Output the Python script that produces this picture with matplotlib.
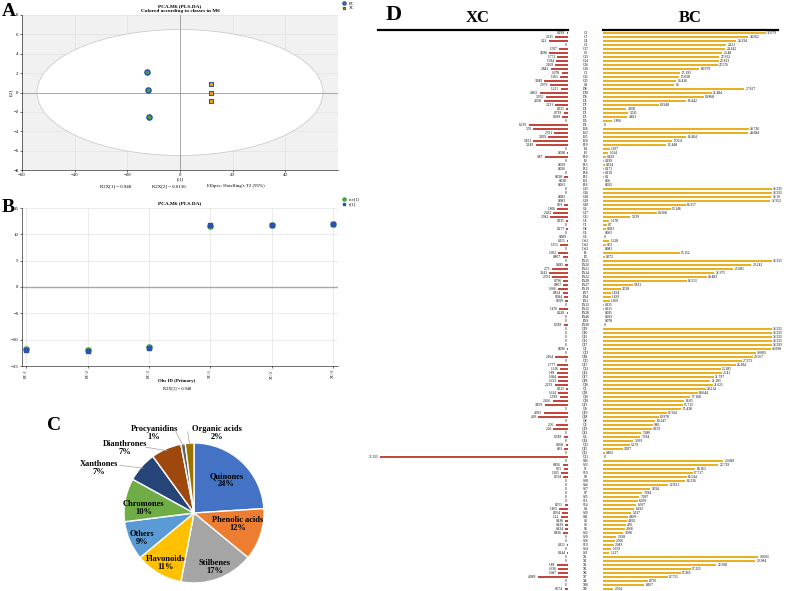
import numpy as np
import matplotlib
matplotlib.use("Agg")
import matplotlib.pyplot as plt
import matplotlib.transforms as mtransforms
from matplotlib.patches import Ellipse
from matplotlib.lines import Line2D

plt.rcParams["font.family"] = ["Liberation Serif", "DejaVu Serif"]

# ---- panel A: PCA scores ----
a_bc_t1 = [-12.4, -12.0, -11.7]
a_bc_t2 = [2.1, 0.28, -2.55]
a_xc_t1 = [11.6, 11.7, 11.9]
a_xc_t2 = [0.9, 0.0, -0.86]

# ---- panel B: t[1] per observation ----
b_obs = ["BC-1", "BC-2", "BC-3", "XC-1", "XC-2", "XC-3"]
b_t1 = [-11.9, -12.1, -11.6, 11.7, 11.8, 11.9]
b_tcv1 = [-11.8, -12.0, -11.4, 11.6, 11.8, 12.0]

# ---- panel C: compound classes ----
pie_names = ["Quinones", "Phenolic acids", "Stilbenes", "Flavonoids", "Others",
             "Chromones", "Xanthones", "Dianthrones", "Procyanidins", "Organic acids"]
pie_pct = [24, 12, 17, 11, 9, 10, 7, 7, 1, 2]
pie_colors = ["#4472C4", "#ED7D31", "#A5A5A5", "#FFC000", "#5B9BD5",
              "#70AD47", "#264478", "#9E480E", "#636363", "#997300"]

# ---- panel D: relative content XC vs BC ----
d_labels = [
    "C2", "C7", "C4", "C1", "C17", "C6", "C13", "C14", "C16", "C20", "C3", "C11", "C15", "C8",
    "D8", "D10", "D9", "D4", "D7", "D2", "D1", "D3", "D6", "D5",
    "F26", "F22", "F25", "F20", "F19", "F4", "F3", "F10", "F2", "F13", "F12", "F18", "F11", "F21", "F16",
    "G15", "G16", "G18", "G19", "G20", "G9", "G17", "G11",
    "O2", "O1", "O8", "O5", "O6", "OA1", "OA2", "OA3", "P1", "P2",
    "PA15", "PA20", "PA21", "PA14", "PA22", "PA28", "PA27", "PA19", "PA7", "PA4", "PA1", "PA13",
    "PA12", "PA38", "PA40", "PA9", "PA30",
    "Q39", "Q40", "Q41", "Q42", "Q37", "Q2", "Q13", "Q38", "Q35", "Q47", "Q31", "Q22", "Q27",
    "Q28", "Q36", "Q1", "Q18", "Q16", "Q30", "Q43", "Q9", "Q29", "Q48", "Q8", "Q4", "Q19",
    "Q23", "Q6", "Q44", "Q15", "Q25", "Q32", "Q11",
    "S30", "S23", "S1", "S10", "S8", "S28", "S34", "S27", "S7", "S25", "S11", "S14", "S4",
    "S20", "S41", "S3", "S2", "S5", "S22", "S29", "S26", "S19", "S24", "S21",
    "X1", "X2", "X3", "X5", "X6", "X7", "X4", "X10", "X9",
]
d_xc = [
    0.199, 2.135, 3.23, 0, 1.507, 3.096, 1.771, 1.934, 2.169, 2.841, 1.078, 1.361, 3.949, 2.979,
    1.221, 4.662, 3.702, 4.068, 2.131, 0.325, 0.739, 0.939, 0, 6.539,
    5.76, 2.331, 3.309, 5.821, 5.349, 0, 0.098, 3.87, 0, 0.029, 0.026, 0, 0.628, 0.018, 0.063,
    0, 0, 0.083, 0.083, 0.59, 1.806, 2.432, 2.941,
    0.335, 0, 0.277, 0, 0.009, 0.151, 1.351, 0, 1.602, 0.867,
    0, 0.485, 2.73, 3.141, 2.591, 0.796, 0.807, 1.666, 0.824, 0.584, 0.509, 0,
    1.476, 0.249, 0, 0, 0.749,
    0, 0, 0, 0, 0, 0.096, 0, 2.164, 0, 1.777, 1.316, 1.88, 1.684,
    1.623, 2.233, 0.313, 1.614, 1.399, 2.496, 3.859, 0, 4.033, 4.93, 0, 2.06, 2.43,
    0, 0.749, 0, 0.368, 0.61, 0, 31.333,
    0, 0.856, 0.75, 1.105, 0.794, 0, 0, 0, 0, 0, 0, 0.551, 1.465,
    0.954, 1.22, 0.436, 0.429, 0.434, 0.816, 0, 0, 0.151, 0, 0.144,
    0, 0, 1.88, 1.636, 1.687, 4.989, 0, 0, 0.574,
]
d_bc = [
    32.079, 28.662, 26.294, 24.31, 24.142, 23.48, 22.952, 22.823, 22.576, 18.979, 15.193, 15.038, 14.416, 14,
    27.827, 21.484, 19.868, 16.442, 10.948, 4.568, 5.011, 4.811, 1.866, 0,
    28.736, 28.684, 16.404, 13.611, 12.448, 1.307, 1.014, 0.493, 0.199, 0.324, 0.171, 0.119, 0.1, 0.06, 0.032,
    33.333, 33.333, 33.19, 32.952, 16.317, 13.346, 10.568, 5.339,
    1.178, 0.7, 0.581, 0.063, 0, 1.218, 0.52, 0.083, 15.152, 0.372,
    33.333, 29.243, 25.681, 21.975, 20.483, 16.513, 5.831, 3.528, 1.494, 1.493, 1.369, 0.135,
    0.131, 0.095, 0.093, 0.078, 0,
    33.333, 33.333, 33.333, 33.333, 33.293, 33.098, 30.083, 29.567, 27.373, 26.184, 23.185, 23.41, 21.797,
    21.185, 21.621, 20.214, 18.644, 17.168, 16.05, 15.713, 15.438, 12.564, 10.978, 10.247, 9.86, 9.679,
    7.486, 7.384, 5.993, 5.279, 3.937, 0.402, 0,
    23.689, 22.719, 18.163, 17.717, 16.544, 16.236, 12.821, 9.334, 7.684, 7.097, 6.909, 6.567, 6.192,
    5.617, 4.899, 4.692, 4.56, 4.366, 3.996, 2.638, 2.366, 2.083, 1.659, 1.227,
    30.603, 29.984, 22.308, 17.325, 15.365, 12.751, 8.796, 8.167, 2.004,
]

W, H = 787, 591


def box(x0, y0, x1, y1):
    # pixel box (top-left origin) -> figure fraction rect
    return [x0 / W, 1 - y1 / H, (x1 - x0) / W, (y1 - y0) / H]


def fmt(v):
    return "0" if v == 0 else f"{v:g}"


def panel_a(fig):
    ax = fig.add_axes(box(22, 15, 338, 170))
    ax.set_facecolor("#f1f1f1")
    ax.set_xlim(-60, 60)
    ax.set_ylim(-8, 8)
    ax.set_axisbelow(True)
    ax.grid(True, color="#dedede", lw=0.4)
    ax.add_patch(Ellipse((0, 0), 2 * 54.3, 2 * 6.5, facecolor="white",
                         edgecolor="#c4c4c4", lw=0.5, zorder=1))
    ax.axhline(0, color="#9a9a9a", lw=0.6, zorder=2)
    ax.axvline(0, color="#9a9a9a", lw=0.6, zorder=2)
    ax.scatter(a_bc_t1, a_bc_t2, s=14, marker="o", facecolor="#3fa33f",
               edgecolor="#2a4ea6", lw=1.0, zorder=3, label="BC")
    ax.scatter(a_xc_t1, a_xc_t2, s=12, marker="s", facecolor="#f2a900",
               edgecolor="#3b4fa0", lw=0.8, zorder=3, label="XC")
    ax.set_xticks(np.arange(-60, 41, 20))
    ax.set_yticks(np.arange(-8, 9, 2))
    ax.tick_params(labelsize=3.5, length=1.5, width=0.4, pad=1)
    for s in ["top", "right"]:
        ax.spines[s].set_visible(False)
    for s in ["left", "bottom"]:
        ax.spines[s].set_linewidth(0.4)
    ax.set_xlabel("t[1]", fontsize=3.5, labelpad=0)
    ax.set_ylabel("t[2]", fontsize=3.5, labelpad=0)
    ax.set_title("PCA.M6 (PLS-DA)\nColored according to classes in M6",
                 fontsize=3.8, fontweight="bold", pad=2, linespacing=1.3)
    ax.legend(loc="upper left", bbox_to_anchor=(1.0, 1.1), fontsize=3,
              frameon=False, handletextpad=0.1, borderpad=0, labelspacing=0.2,
              markerscale=0.6)
    fig.text(116 / W, 1 - 187 / H, "R2X[1] = 0.948", fontsize=3.5, ha="center")
    fig.text(169 / W, 1 - 187 / H, "R2X[2] = 0.0136", fontsize=3.5, ha="center")
    fig.text(236 / W, 1 - 187 / H, "Ellipse: Hotelling's T2 (95%)", fontsize=3.5, ha="center")


def panel_b(fig):
    ax = fig.add_axes(box(22, 208, 338, 366))
    x = np.arange(len(b_obs))
    ax.set_xlim(-0.07, 5.08)
    ax.set_ylim(-15, 15)
    ax.set_axisbelow(True)
    ax.grid(True, color="#e3e3e3", lw=0.5)
    ax.axhline(0, color="#a8a8a8", lw=1.0, zorder=1)
    ax.scatter(x, b_tcv1, s=14, marker="o", color="#3ea53e", zorder=3, label="tcv[1]")
    ax.scatter(x, b_t1, s=12, marker="s", color="#2f50b3", zorder=4, label="t[1]")
    ax.set_xticks(x)
    ax.set_xticklabels(b_obs, rotation=90)
    ax.set_yticks(np.arange(-15, 16, 5))
    ax.tick_params(labelsize=3.5, length=1.5, width=0.4, pad=1)
    ax.tick_params(axis="x", labelsize=3.0)
    for s in ["top", "right"]:
        ax.spines[s].set_visible(False)
    for s in ["left", "bottom"]:
        ax.spines[s].set_linewidth(0.4)
    ax.set_title("PCA.M6 (PLS-DA)", fontsize=3.8, fontweight="bold", pad=3)
    ax.legend(loc="upper left", bbox_to_anchor=(1.0, 1.08), fontsize=3,
              frameon=False, handletextpad=0.1, borderpad=0, labelspacing=0.2,
              markerscale=0.6)
    fig.text(177 / W, 1 - 381 / H, "Obs ID (Primary)", fontsize=3.5, ha="center",
             va="center", fontweight="bold")
    fig.text(177 / W, 1 - 388 / H, "R2X[1] = 0.948", fontsize=3.2, ha="center", va="center")


def panel_c(fig):
    ax = fig.add_axes(box(124, 443, 264, 583))
    wedges, _ = ax.pie(pie_pct, colors=pie_colors, startangle=90, counterclock=False,
                       wedgeprops=dict(edgecolor="white", linewidth=1.0))
    ax.set_xlim(-1, 1)
    ax.set_ylim(-1, 1)
    ax.set_aspect("equal")
    inside = {
        "Quinones": (0.46, 0.47), "Phenolic acids": (0.62, -0.16),
        "Stilbenes": (0.29, -0.77), "Flavonoids": (-0.4, -0.71),
        "Others": (-0.74, -0.36), "Chromones": (-0.72, 0.07),
    }
    outside = {
        "Xanthones": ((-1.36, 0.64), (-1.06, 0.68)),
        "Dianthrones": ((-0.99, 0.93), (-0.69, 0.94)),
        "Procyanidins": ((-0.57, 1.14), (-0.26, 1.16)),
        "Organic acids": ((0.33, 1.14), (-0.09, 1.16)),
    }
    for w, name, pct in zip(wedges, pie_names, pie_pct):
        txt = f"{name}\n{pct}%"
        if name in inside:
            ax.text(*inside[name], txt, ha="center", va="center", fontsize=6,
                    fontweight="bold", linespacing=1.0)
        else:
            pos, anchor = outside[name]
            ax.text(*pos, txt, ha="center", va="center", fontsize=6,
                    fontweight="bold", linespacing=1.0)
            mid = np.deg2rad((w.theta1 + w.theta2) / 2)
            ax.plot([anchor[0], 0.97 * np.cos(mid)], [anchor[1], 0.97 * np.sin(mid)],
                    color="#a0a0a0", lw=0.5, clip_on=False)


def panel_d(fig):
    n = len(d_labels)
    y = np.arange(n)
    axl = fig.add_axes(box(378, 31, 568, 591))
    axr = fig.add_axes(box(603, 31, 778, 591))
    axl.barh(y, d_xc, height=0.72, color="#C4473D")
    axr.barh(y, d_bc, height=0.72, color="#E9B022")
    axl.set_xlim(31.7, 0)
    axr.set_xlim(0, 34.5)
    for ax in (axl, axr):
        ax.set_ylim(n - 0.5, -0.5)
        ax.axis("off")
    for yi, v in zip(y, d_xc):
        axl.text(v + 0.25, yi, fmt(v), ha="right", va="center", fontsize=2.6, clip_on=False)
    for yi, v in zip(y, d_bc):
        axr.text(v + 0.25, yi, fmt(v), ha="left", va="center", fontsize=2.6, clip_on=False)
    trans = mtransforms.blended_transform_factory(fig.transFigure, axl.transData)
    for yi, lab in zip(y, d_labels):
        fig.text(585.5 / W, yi, lab, transform=trans, ha="center", va="center", fontsize=2.6)
    fig.text(478 / W, 1 - 18 / H, "XC", ha="center", va="center", fontsize=12, fontweight="bold")
    fig.text(690 / W, 1 - 18 / H, "BC", ha="center", va="center", fontsize=12, fontweight="bold")
    fig.add_artist(Line2D([378 / W, 568 / W], [1 - 29.5 / H] * 2, color="black", lw=1.6))
    fig.add_artist(Line2D([603 / W, 778 / W], [1 - 29.5 / H] * 2, color="black", lw=1.6))


def main():
    fig = plt.figure(figsize=(W / 100, H / 100), dpi=100)
    panel_a(fig)
    panel_b(fig)
    panel_c(fig)
    panel_d(fig)

    fig.text(2 / W, 1 - 12 / H, "A", fontsize=14, fontweight="bold", va="center")
    fig.text(2 / W, 1 - 207 / H, "B", fontsize=14, fontweight="bold", va="center")
    fig.text(47 / W, 1 - 425 / H, "C", fontsize=14, fontweight="bold", va="center")
    fig.text(386 / W, 1 - 15 / H, "D", fontsize=16, fontweight="bold", va="center")

    fig.savefig("out.png", dpi=100)


if __name__ == "__main__":
    main()
